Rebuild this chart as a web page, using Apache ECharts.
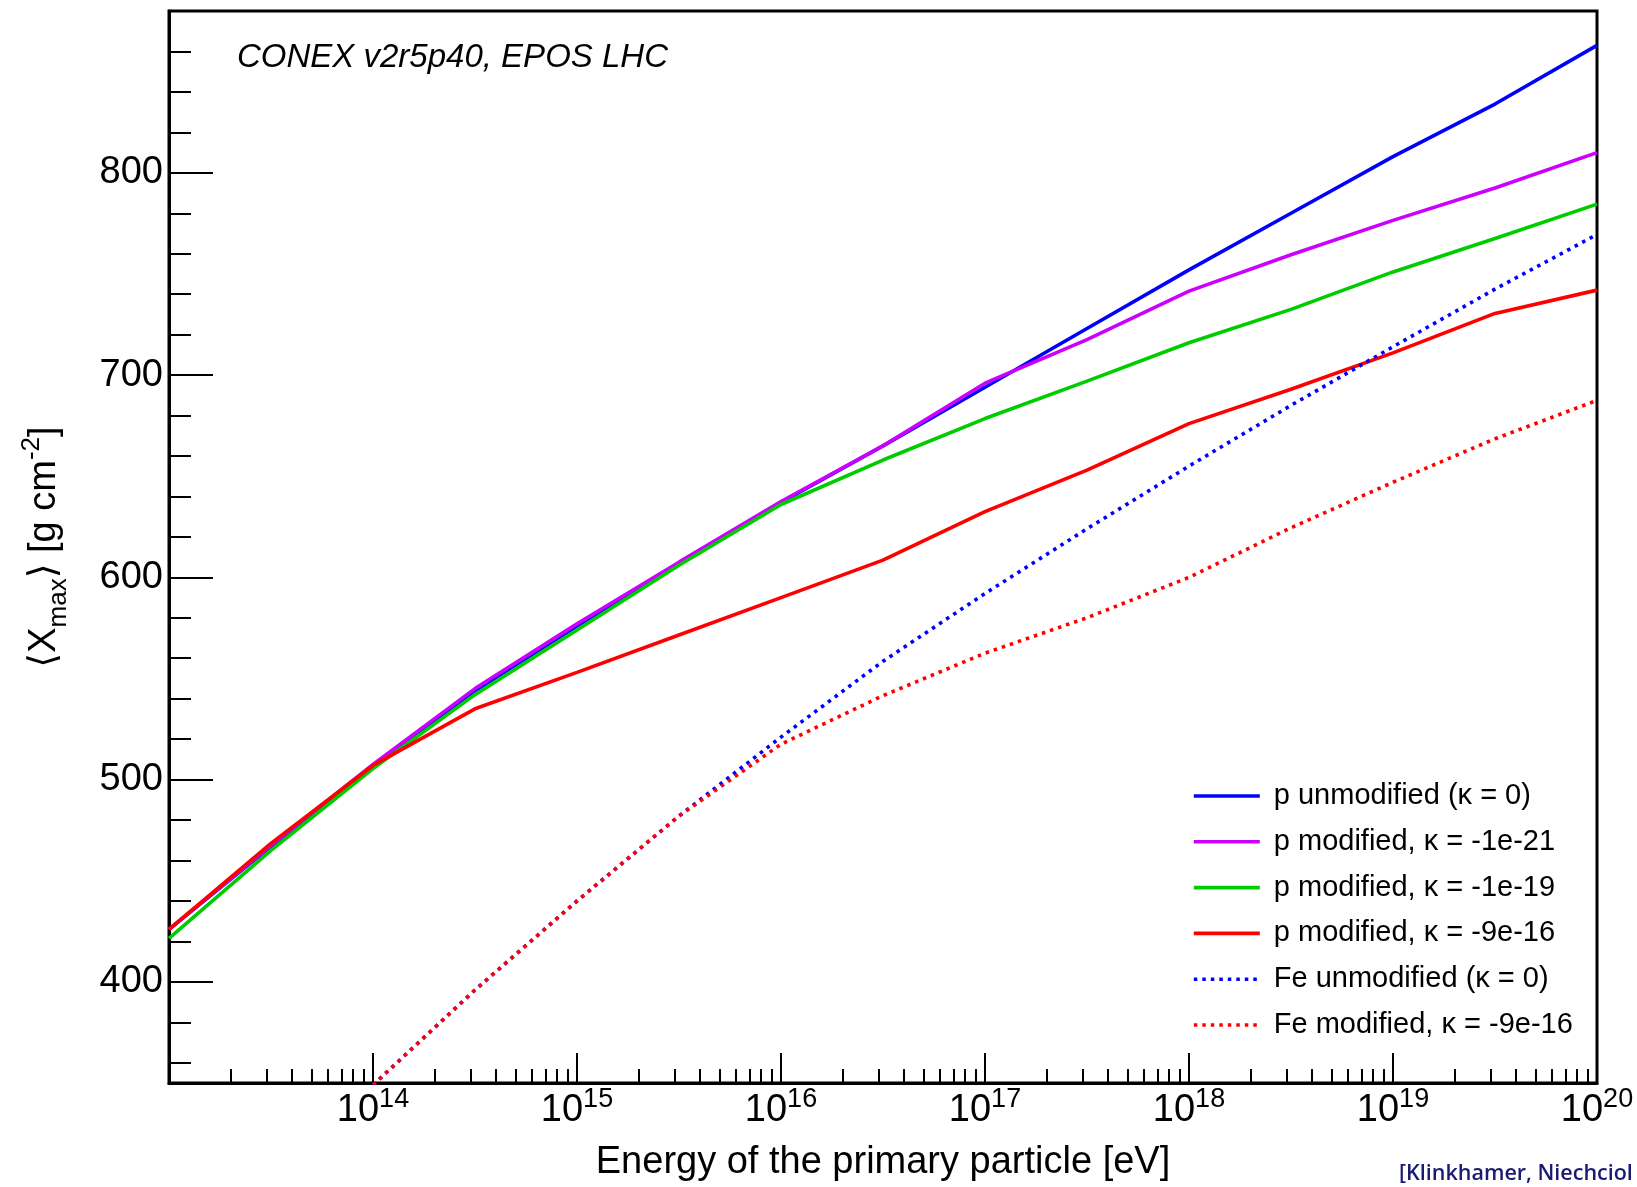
<!DOCTYPE html>
<html><head><meta charset="utf-8">
<script src="https://cdn.jsdelivr.net/npm/echarts@6/dist/echarts.min.js"></script>
<style>html,body{margin:0;padding:0;background:#fff}#c{width:1637px;height:1187px}</style>
</head><body><div id="c"></div>
<script>
// ---- data ----
const energies = [1e13, 3.162e13, 1e14, 3.162e14, 1e15, 3.162e15, 1e16, 3.162e16, 1e17, 3.162e17, 1e18, 3.162e18, 1e19, 3.162e19, 1e20];
const pUnmodified = [426, 467, 507, 544, 576, 607, 637, 665, 694, 723, 752, 780, 808, 834, 863];
const pModified21 = [426, 467.5, 507.5, 545, 577, 607.5, 637.5, 665, 696, 717.5, 741.5, 759.5, 776.5, 792.5, 810];
const pModified19 = [421.5, 465, 505.5, 542, 574, 606, 636, 658, 678.5, 697, 716, 732.5, 751, 767.5, 784.5];
const pModified16 = [426, 468.5, 507, 535, 553, 571.5, 590, 608.5, 632.5, 653, 676, 693, 711, 730.5, 742];
const feUnmodified = [null, null, 349, 396, 440, 482, 521, 558.5, 592, 624, 655, 685, 714, 742.5, 769.5];
const feModified16 = [null, null, 349, 396, 440, 482, 517.5, 541.5, 562.5, 580, 600, 624.5, 647, 668.5, 687.5];
const seriesNames = ['p unmodified (κ = 0)', 'p modified, κ = -1e-21', 'p modified, κ = -1e-19', 'p modified, κ = -9e-16', 'Fe unmodified (κ = 0)', 'Fe modified, κ = -9e-16'];
const yMajorTicks = [400, 500, 600, 700, 800];
const yMinorTicks = [360, 380, 420, 440, 460, 480, 520, 540, 560, 580, 620, 640, 660, 680, 720, 740, 760, 780, 820, 840, 860];
const titleText = 'CONEX v2r5p40, EPOS LHC';
const xTitle = 'Energy of the primary particle [eV]';
const yTitle = '⟨X{sub|max}⟩ [g cm{sup|-2}]';
const creditText = '[Klinkhamer, Niechciol & Risse]';

const FONT = 'Liberation Sans';
const valueSets = [pUnmodified, pModified21, pModified19, pModified16, feUnmodified, feModified16];
const colors = ['#0000ff', '#cc00ff', '#00cc00', '#ff0000', '#0000ff', '#ff0000'];
const dotted = [false, false, false, false, true, true];

const series = valueSets.map((vals, k) => ({
  type: 'line',
  name: seriesNames[k],
  data: energies.map((e, i) => [e, vals[i]]).filter(p => p[1] != null),
  showSymbol: false,
  symbol: 'none',
  clip: true,
  xAxisIndex: 0,
  yAxisIndex: 0,
  itemStyle: { color: colors[k] },
  lineStyle: { color: colors[k], width: 3.6, type: dotted[k] ? [3.5, 5] : 'solid', cap: 'butt' },
  emphasis: { disabled: true },
  z: 3 + k
}));

const chart = echarts.init(document.getElementById('c'), null, { renderer: 'canvas' });
chart.setOption({
  animation: false,
  backgroundColor: '#ffffff',
  textStyle: { fontFamily: FONT, color: '#000' },
  title: {
    text: titleText, left: 237, top: 41.5, padding: 0,
    textStyle: { fontFamily: FONT, fontSize: 33, lineHeight: 33, fontStyle: 'italic', fontWeight: 'normal', color: '#000' }
  },
  legend: {
    orient: 'vertical', left: 1192, top: 781.5, padding: 0,
    itemWidth: 66, itemHeight: 29, itemGap: 16.8,
    data: seriesNames,
    selectedMode: false,
    itemStyle: { opacity: 0 },
    lineStyle: { width: 3.6 },
    textStyle: { fontFamily: FONT, fontSize: 29, lineHeight: 29, color: '#000', padding: [0, 0, 0, 9] }
  },
  grid: {
    left: 169, right: 40, top: 11, bottom: 104,
    show: true, borderColor: '#000', borderWidth: 3, backgroundColor: 'transparent',
    containLabel: false, outerBoundsMode: 'none'
  },
  xAxis: {
    type: 'log', logBase: 10, min: 1e13, max: 1e20, interval: 1,
    name: xTitle, nameLocation: 'middle', nameGap: 61, nameMoveOverlap: false,
    nameTextStyle: { fontFamily: FONT, fontSize: 38, lineHeight: 38, color: '#000' },
    axisLine: { show: true, lineStyle: { color: '#000', width: 3 } },
    axisTick: { show: true, inside: true, length: 30, lineStyle: { color: '#000', width: 2 } },
    minorTick: { show: true, splitNumber: 9, length: 14, lineStyle: { color: '#000', width: 2 } },
    splitLine: { show: false }, minorSplitLine: { show: false },
    axisLabel: {
      show: true, margin: 9, showMinLabel: true, showMaxLabel: true, hideOverlap: false,
      formatter: function (v) {
        const e = Math.round(Math.log10(v));
        if (e === 13) return '';
        return '{b|10}{s|' + e + '}';
      },
      rich: {
        b: { fontFamily: FONT, fontSize: 38, lineHeight: 38, verticalAlign: 'bottom', color: '#000' },
        s: { fontFamily: FONT, fontSize: 27, lineHeight: 27, padding: [0, 0, 22, 0], color: '#000' }
      }
    }
  },
  yAxis: [{
    type: 'value', min: 350, max: 880, position: 'left',
    name: yTitle, nameLocation: 'middle', nameGap: 105, nameRotate: 90, nameMoveOverlap: false,
    nameTextStyle: {
      fontFamily: FONT + ', DejaVu Sans', fontSize: 38, lineHeight: 38, color: '#000',
      rich: {
        sub: { fontFamily: FONT, fontSize: 26, lineHeight: 26, padding: [28.6, 0, 0, 0], color: '#000' },
        sup: { fontFamily: FONT, fontSize: 26, lineHeight: 26, padding: [0, 0, 26.6, 0], color: '#000' }
      }
    },
    axisLine: { show: true, lineStyle: { color: '#000', width: 3 } },
    axisTick: { show: true, inside: true, length: 44, customValues: yMajorTicks, lineStyle: { color: '#000', width: 2 } },
    axisLabel: { show: true, margin: 6, customValues: yMajorTicks, fontFamily: FONT, fontSize: 38, color: '#000' },
    splitLine: { show: false }
  }, {
    type: 'value', min: 350, max: 880, position: 'left', offset: 0,
    axisLine: { show: false },
    axisTick: { show: true, inside: true, length: 22, customValues: yMinorTicks, lineStyle: { color: '#000', width: 2 } },
    axisLabel: { show: false },
    splitLine: { show: false }
  }],
  graphic: [{
    type: 'text', left: 1399, top: 1163, silent: true,
    style: { text: creditText, font: '600 21.5px "Open Sans"', fill: '#1a1a72' }
  }],
  series: series
});
</script>
</body></html>
